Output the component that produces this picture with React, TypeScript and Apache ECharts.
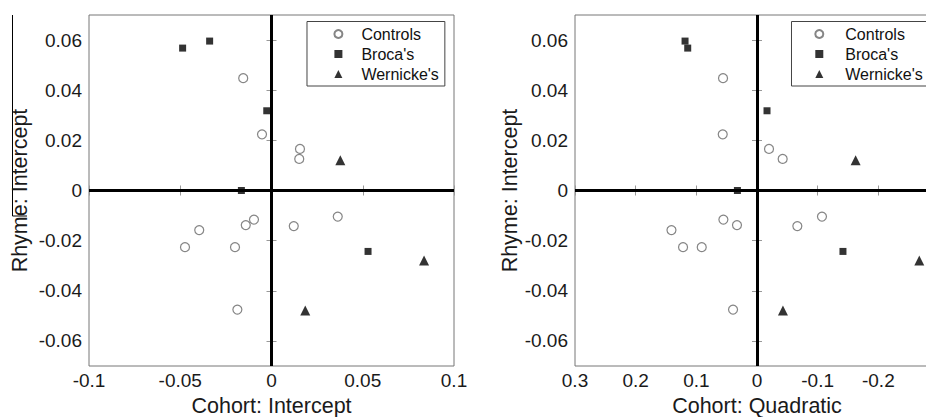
import React, { useEffect, useRef } from "react";
import * as echarts from "echarts";

// Subject-level values (same subjects in both panels)
const controlsRhymeIntercept = [0.0448, 0.0224, 0.0166, 0.0126, -0.0104, -0.0116, -0.0138, -0.0142, -0.0158, -0.0226, -0.0226, -0.0475];
const controlsCohortIntercept = [-0.0155, -0.0052, 0.0156, 0.0152, 0.0363, -0.0096, -0.0141, 0.0122, -0.0396, -0.0474, -0.02, -0.0187];
const controlsCohortQuadratic = [0.056, 0.0565, -0.0198, -0.0423, -0.1071, 0.0554, 0.033, -0.0665, 0.141, 0.1219, 0.0911, 0.0395];

const brocaRhymeIntercept = [0.0596, 0.0568, 0.0318, 0.0, -0.0243];
const brocaCohortIntercept = [-0.0339, -0.0487, -0.0026, -0.0165, 0.0529];
const brocaCohortQuadratic = [0.1186, 0.1142, -0.0165, 0.0323, -0.1417];

const wernickeRhymeIntercept = [0.0121, -0.0479, -0.0279];
const wernickeCohortIntercept = [0.0377, 0.0185, 0.0836];
const wernickeCohortQuadratic = [-0.1626, -0.0428, -0.2675];

const groupNames = ["Controls", "Broca's", "Wernicke's"];
const yTicks = [-0.06, -0.04, -0.02, 0, 0.02, 0.04, 0.06];

const FONT = "'Liberation Sans', Arial, Helvetica, sans-serif";

const pairs = (xs: number[], ys: number[]) => xs.map((x, i) => [x, ys[i]]);

export default function App() {
  const ref = useRef<HTMLDivElement>(null);

  useEffect(() => {
    if (!ref.current) return;
    const chart = echarts.init(ref.current, null, { renderer: "svg" });

    const tickStyle = { show: true, inside: true, length: 5, lineStyle: { color: "#999", width: 1 } };
    const labelStyle = { color: "#1a1a1a", fontSize: 19, fontFamily: FONT };
    const nameStyle = { color: "#1a1a1a", fontSize: 21.5, fontFamily: FONT };

    const xBase = (gridIndex: number, position: string, withLabels: boolean, cfg: any) => ({
      type: "value",
      gridIndex,
      position,
      ...cfg,
      axisLine: { show: false },
      splitLine: { show: false },
      axisTick: tickStyle,
      axisLabel: withLabels ? { ...labelStyle, margin: 5, showMinLabel: cfg.inverse ? false : true } : { show: false },
    });
    const yBase = (gridIndex: number, position: string, withLabels: boolean, extra: any) => ({
      type: "value",
      gridIndex,
      position,
      min: -0.07,
      max: 0.07,
      axisLine: { show: false },
      splitLine: { show: false },
      axisTick: { ...tickStyle, customValues: yTicks },
      axisLabel: withLabels ? { ...labelStyle, margin: 7, customValues: yTicks } : { show: false, customValues: yTicks },
      ...extra,
    });

    const leftX = { min: -0.1, max: 0.1, interval: 0.05 };
    const rightX = { min: -0.3, max: 0.3, interval: 0.1, inverse: true };

    const zeroLines = {
      silent: true,
      symbol: ["none", "none"],
      label: { show: false },
      lineStyle: { color: "#000", width: 3, type: "solid" },
      emphasis: { disabled: true },
      data: [{ xAxis: 0 }, { yAxis: 0 }],
    };

    const styles = [
      { symbol: "circle", symbolSize: 9, itemStyle: { color: "#fff", borderColor: "#666", borderWidth: 1.2 } },
      { symbol: "rect", symbolSize: 7, itemStyle: { color: "#000" } },
      { symbol: "triangle", symbolSize: 10, itemStyle: { color: "#000" } },
    ];

    const leftData = [
      pairs(controlsCohortIntercept, controlsRhymeIntercept),
      pairs(brocaCohortIntercept, brocaRhymeIntercept),
      pairs(wernickeCohortIntercept, wernickeRhymeIntercept),
    ];
    const rightData = [
      pairs(controlsCohortQuadratic, controlsRhymeIntercept),
      pairs(brocaCohortQuadratic, brocaRhymeIntercept),
      pairs(wernickeCohortQuadratic, wernickeRhymeIntercept),
    ];

    const series: any[] = [];
    [leftData, rightData].forEach((set, g) => {
      set.forEach((d, i) => {
        series.push({
          type: "scatter",
          name: groupNames[i],
          xAxisIndex: g * 2,
          yAxisIndex: g * 2,
          data: d,
          ...styles[i],
          emphasis: { disabled: true },
          z: 5,
          ...(i === 0 ? { markLine: zeroLines } : {}),
        });
      });
    });

    const legendBase = (left: number, padLeft: number, textPad: number) => ({
      orient: "vertical",
      left,
      top: 21.5,
      itemWidth: 8,
      itemHeight: 8,
      itemGap: 4,
      padding: [4.5, 6, 4, padLeft],
      borderColor: "#444",
      borderWidth: 1,
      backgroundColor: "#fff",
      selectedMode: false,
      textStyle: { color: "#111", fontSize: 16, fontFamily: FONT, lineHeight: 16, padding: [0, 0, 0, textPad] },
      data: groupNames,
    });

    const gridBase = { top: 15, height: 351, show: true, borderColor: "#777", borderWidth: 1, backgroundColor: "transparent", containLabel: false, outerBoundsMode: "none" };

    chart.setOption({
      animation: false,
      backgroundColor: "#fff",
      textStyle: { fontFamily: FONT },
      grid: [
        { ...gridBase, left: 89, width: 365 },
        { ...gridBase, left: 575, width: 364 },
      ],
      xAxis: [
        { ...xBase(0, "bottom", true, leftX), name: "Cohort: Intercept", nameLocation: "middle", nameGap: 29, nameTextStyle: nameStyle },
        xBase(0, "top", false, leftX),
        { ...xBase(1, "bottom", true, rightX), name: "Cohort: Quadratic", nameLocation: "middle", nameGap: 29, nameTextStyle: nameStyle },
        xBase(1, "top", false, rightX),
      ],
      yAxis: [
        yBase(0, "left", true, { name: "Rhyme: Intercept", nameLocation: "middle", nameGap: 58, nameTextStyle: nameStyle }),
        yBase(0, "right", false, {}),
        yBase(1, "left", true, { name: "Rhyme: Intercept", nameLocation: "middle", nameGap: 53, nameTextStyle: nameStyle }),
        yBase(1, "right", false, {}),
      ],
      legend: [legendBase(307, 26.4, 14), legendBase(791.5, 22.8, 17)],
      graphic: [
        { type: "line", shape: { x1: 12.5, y1: 15, x2: 12.5, y2: 216 }, style: { stroke: "#000", lineWidth: 1 }, silent: true },
        { type: "line", shape: { x1: 12.5, y1: 216, x2: 27, y2: 216 }, style: { stroke: "#000", lineWidth: 1 }, silent: true },
      ],
      series,
    });

    return () => chart.dispose();
  }, []);

  return (
    <div style={{ position: "fixed", left: 0, top: 0, width: 926, height: 417, overflow: "hidden", background: "#fff" }}>
      <div ref={ref} style={{ width: 960, height: 417 }} />
    </div>
  );
}
